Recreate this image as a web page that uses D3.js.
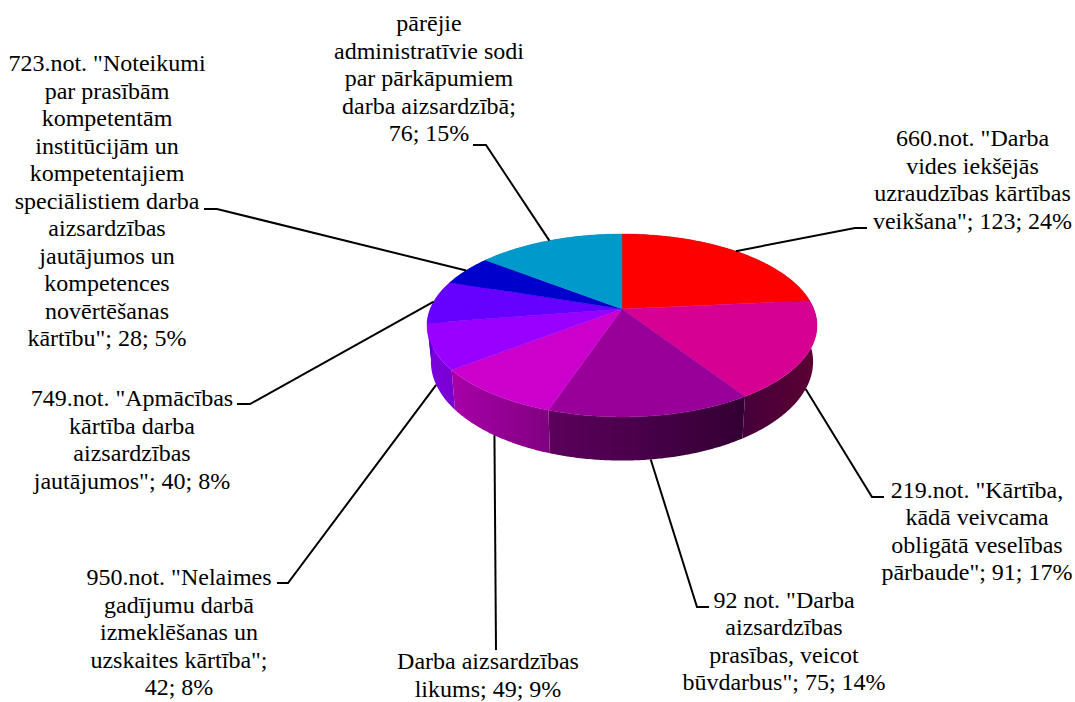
<!DOCTYPE html>
<html>
  <head>
    <meta charset="utf-8">
    <title>Pie chart</title>
    <style type="text/css">
        html, body{ margin: 0; padding: 0; background: #fff; }
        svg{ display: block; }
        .label{
            font-family: "Liberation Serif", serif;
            font-size: 24px;
            fill: #000;
            text-anchor: middle;
        }
        .leader{ fill: none; stroke: #000; stroke-width: 2px; }
    </style>
  </head>
  <body>
    <div id="chart"></div>
    <script src="https://cdn.jsdelivr.net/npm/d3@7"></script>
    <script>
        var values = [123, 91, 75, 49, 42, 40, 28, 76];

        var labelLines = [
            ['660.not. "Darba', 'vides iekšējās', 'uzraudzības kārtības', 'veikšana"; 123; 24%'],
            ['219.not. "Kārtība,', 'kādā veivcama', 'obligātā veselības', 'pārbaude"; 91; 17%'],
            ['92 not. "Darba', 'aizsardzības', 'prasības, veicot', 'būvdarbus"; 75; 14%'],
            ['Darba aizsardzības', 'likums; 49; 9%'],
            ['950.not. "Nelaimes', 'gadījumu darbā', 'izmeklēšanas un', 'uzskaites kārtība";', '42; 8%'],
            ['749.not. "Apmācības', 'kārtība darba', 'aizsardzības', 'jautājumos"; 40; 8%'],
            ['723.not. "Noteikumi', 'par prasībām', 'kompetentām', 'institūcijām un', 'kompetentajiem', 'speciālistiem darba', 'aizsardzības', 'jautājumos un', 'kompetences', 'novērtēšanas', 'kārtību"; 28; 5%'],
            ['pārējie', 'administratīvie sodi', 'par pārkāpumiem', 'darba aizsardzībā;', '76; 15%']
        ];

        var topColors = ['#ff0000', '#d60093', '#990099', '#cc00cc', '#9900ff', '#6600ff', '#0000cc', '#0099cc'];
        var sideColorsLeft = ['#800000', '#45003a', '#5c005c', '#a800a8', '#7a00e0', '#5200cc', '#0000a3', '#007aa3'];
        var sideColorsRight = ['#800000', '#5c0033', '#330033', '#800080', '#7a00d0', '#5200cc', '#0000a3', '#007aa3'];

        var width = 1075, height = 702;

        // Perspective disc, fitted to the outline of the picture
        var cx = 622, cy = 309, radius = 191.8, squash = 88.5, tilt = 0.18;
        var bottomCy = 344, bottomSx = 0.98, bottomSy = 1.08;

        // Label placing: text centre, first baseline, where the leader bends and stops
        var labelLayout = [
            {x: 972.5, y: 146, elbow: [855, 228], end: [867, 228]},
            {x: 977, y: 497.5, elbow: [872, 497], end: [884, 497]},
            {x: 784, y: 607.5, elbow: [697, 607], end: [709, 607]},
            {x: 488, y: 669, elbow: null, end: [496, 650]},
            {x: 179, y: 585, elbow: [288, 583], end: [277, 583]},
            {x: 132, y: 406, elbow: [250, 404], end: [237, 404]},
            {x: 107, y: 71, elbow: [217, 209], end: [204, 209]},
            {x: 429, y: 31, elbow: [486, 145], end: [473, 145]}
        ];
        var lineStep = 27.5;

        var svg = d3.select("#chart").append("svg")
            .attr("width", width)
            .attr("height", height);
        var defs = svg.append("defs");

        var slices = d3.pie().sort(null)(values);

        // Angle is clockwise from the top of the disc
        function project(angle, onBottom) {
            var u = Math.sin(angle), v = -Math.cos(angle);
            var w = 1 - tilt * v;
            if (onBottom) {
                return [cx + bottomSx * radius * u / w, bottomCy + bottomSy * squash * v / w];
            }
            return [cx + radius * u / w, cy + squash * v / w];
        }

        function arcPoints(slice, onBottom) {
            var n = Math.max(2, Math.ceil((slice.endAngle - slice.startAngle) / 0.01));
            return d3.range(n + 1).map(function (i) {
                return project(slice.startAngle + (slice.endAngle - slice.startAngle) * i / n, onBottom);
            });
        }

        var line = d3.line();

        //  Sides first, the top face is painted over what is hidden
        var sides = svg.append("g").attr("class", "sides");
        slices.forEach(function (d, i) {
            var top = arcPoints(d, false), bottom = arcPoints(d, true);
            var xs = top.concat(bottom).map(function (p) { return p[0]; });
            var grad = defs.append("linearGradient")
                .attr("id", "side" + i)
                .attr("gradientUnits", "userSpaceOnUse")
                .attr("x1", d3.min(xs)).attr("x2", d3.max(xs))
                .attr("y1", 0).attr("y2", 0);
            grad.append("stop").attr("offset", 0).attr("stop-color", sideColorsLeft[i]);
            grad.append("stop").attr("offset", 1).attr("stop-color", sideColorsRight[i]);
            sides.append("path")
                .attr("d", line(top.concat(bottom.reverse())) + "Z")
                .attr("fill", "url(#side" + i + ")");
        });

        var faces = svg.append("g").attr("class", "faces");
        slices.forEach(function (d, i) {
            faces.append("path")
                .attr("d", line([[cx, cy]].concat(arcPoints(d, false))) + "Z")
                .attr("fill", topColors[i])
                .attr("stroke", topColors[i])
                .attr("stroke-width", 0.4);
        });

        //  Leaders start on the middle of each slice's rim
        var leaders = svg.append("g").attr("class", "leaders");
        slices.forEach(function (d, i) {
            var mid = (d.startAngle + d.endAngle) / 2;
            var onBottom = mid > Math.PI * 0.5 && mid < Math.PI * 1.45;
            var pts = [project(mid, onBottom)];
            var place = labelLayout[i];
            if (place.elbow) pts.push(place.elbow);
            pts.push(place.end);
            leaders.append("path").attr("class", "leader").attr("d", line(pts));
        });

        var labels = svg.append("g").attr("class", "labels");
        labelLines.forEach(function (lines, i) {
            var place = labelLayout[i];
            labels.append("text")
                .attr("class", "label")
                .selectAll("tspan")
                .data(lines)
                .enter().append("tspan")
                .attr("x", place.x)
                .attr("y", function (d, j) { return place.y + j * lineStep; })
                .text(function (d) { return d; });
        });
    </script>
  </body>
</html>
